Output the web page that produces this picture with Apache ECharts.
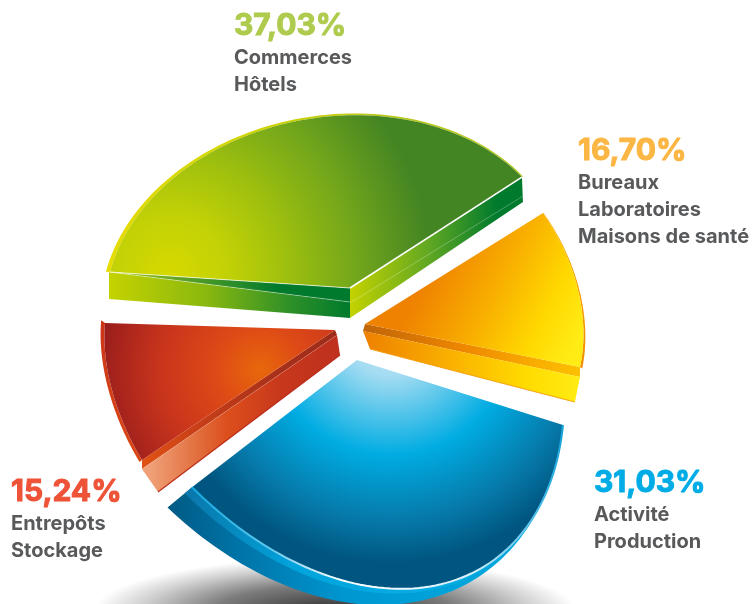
<!DOCTYPE html>
<html><head><meta charset="utf-8">
<style>html,body{margin:0;padding:0;background:#fff}#c{width:755px;height:604px}</style>
<script src="https://cdn.jsdelivr.net/npm/echarts@6/dist/echarts.min.js"></script>
</head><body><div id="c"></div>
<script>
// ---- data ----
var shareValues = [37.03, 16.70, 31.03, 15.24];
var nameLines = [["Commerces","Hôtels"],["Bureaux","Laboratoires","Maisons de santé"],["Activité","Production"],["Entrepôts","Stockage"]];
var labelColors = ["#aecb4e","#fcb643","#00ace6","#ee5237"];

// ---- look (per-wedge projection of the unit pie, label anchors, gradients) ----
var G = echarts.graphic;
function lin(x0,y0,x1,y1,st){return new G.LinearGradient(x0,y0,x1,y1,st.map(function(s){return {offset:s[0],color:s[1]};}),true);}
function rad(x,y,r,st){return new G.RadialGradient(x,y,r,st.map(function(s){return {offset:s[0],color:s[1]};}),true);}
var looks = [
 { // green
  c:[334.4,291.2], e:[-224.4,-19.2], f:[46.2,-174.9], apex:[350,288], label:[234,37],
  top: rad(170,272,262,[[0,'#d6d900'],[.22,'#c2d106'],[.45,'#9dbf0e'],[.7,'#74a71b'],[1,'#438423']]),
  rim:{from:1.018,to:1.006, fill:lin(110,272,400,114,[[0,'#e6dc00'],[.6,'#d0d400'],[1,'#b8c820']])},
  walls:[
   {edge:0,a1:[0,0],c1:[0,0],c2:[0,0],a2:[0,14],fill:lin(110,0,350,0,[[0,'#a8c810'],[.3,'#5ea225'],[.7,'#007a2d'],[1,'#007a2d']])},
   {edge:0,a1:[0,14],c1:[-1,0],c2:[-1,27],a2:[0,30],fill:lin(110,0,350,0,[[0,'#c4d200'],[.4,'#8ab80f'],[.75,'#2e9028'],[1,'#007a2d']])},
   {edge:1,a1:[0,0],c1:[0,0],c2:[1,25],a2:[0,30],fill:lin(350,0,523,0,[[0,'#c4d200'],[.45,'#62a822'],[.85,'#007a2d'],[1,'#007a2d']])}
  ],
  lines:[
   {edge:1,a:[0,0],c:[0,0],color:'#ffffff',w:1.6},
   {edge:0,a:[0,0],c:[0,0],color:'#ffffff',w:.7},
   {edge:1,a:[0,15],c:[1,19],color:'rgba(255,255,255,.45)',w:.6},
   {edge:0,a:[0,14],c:[-1,0],color:'rgba(255,255,255,.6)',w:.6}
  ]
 },
 { // orange
  c:[454.9,289.2], e:[88.1,-76.2], f:[93.6,133.6], apex:[365,324], label:[578,162],
  top: lin(430,270,575,345,[[0,'#ef8200'],[.4,'#f8ad00'],[.75,'#ffd800'],[1,'#ffec14']]),
  rim:{from:1.004,to:1.018, fill:lin(0,212,0,400,[[0,'#f9a800'],[1,'#f08c00']])},
  walls:[
   {edge:1,a1:[0,0],c1:[0,0],c2:[0,10],a2:[-2,7],fill:lin(365,0,580,0,[[0,'#c06508'],[.45,'#ee8600'],[.8,'#f9ae00'],[1,'#fcc000']])},
   {edge:1,a1:[-2,7],c1:[0,10],c2:[-5,35],a2:[5,25],fill:lin(365,0,580,0,[[0,'#ee8100'],[.45,'#fbb700'],[.75,'#ffdb00'],[1,'#ffec14']])}
  ],
  lines:[
   {edge:1,a:[5,25],c:[-5,35],color:'#f49a00',w:.9}
  ]
 },
 { // blue
  c:[310.3,289.3], e:[252.7,135.7], f:[-26.7,267], apex:[357,360], label:[594,494],
  top: rad(390,330,240,[[0,'#cdeefa'],[.19,'#a4dcf2'],[.52,'#00ace2'],[.8,'#0678a8'],[.97,'#005680'],[1,'#005680']]),
  band:{c:[295.2,294], e:[267.8,131], f:[-30.8,282],
        fill:lin(167,0,460,0,[[0,'#005a84'],[.25,'#0074a8'],[.6,'#0096d0'],[1,'#00a5dc']]),
        inner:.3, innerFill:lin(190,0,540,0,[[0,'#0a78ac'],[.3,'#00a4dc'],[.7,'#0aaee4'],[1,'#0aa8e0']])},
  arcLine:lin(192,0,563,0,[[0,'#12a8e0'],[.2,'#5cc6ee'],[.4,'#ffffff'],[.75,'#d8f0fa'],[.9,'#60c4ec'],[1,'#18a4dc']]),
  walls:[], lines:[]
 },
 { // red
  c:[214.4,403.1], e:[-72.4,56.9], f:[-82.8,-137.9], apex:[335,330], label:[11,503],
  top: rad(260,370,175,[[0,'#e8680c'],[.25,'#de4a16'],[.58,'#c8341c'],[.85,'#a3221c'],[1,'#8a181b']]),
  rim:{from:1.035,to:1.035, fill:lin(0,323,0,470,[[0,'#cc3518'],[1,'#dc4a14']])},
  walls:[
   {edge:0,a1:[0,0],c1:[0,0],c2:[0,9],a2:[2,5],fill:lin(142,0,335,0,[[0,'#e05214'],[.3,'#c73e18'],[.7,'#a8301a'],[1,'#9c2c1a']])},
   {edge:0,a1:[2,5],c1:[0,9],c2:[16,32],a2:[5,25],fill:lin(150,0,335,0,[[0,'#f0a078'],[.25,'#e2703f'],[.42,'#dc4e1c'],[.7,'#c8381c'],[1,'#bf301e']])}
  ],
  lines:[
   {edge:0,a:[5,25],c:[16,32],color:'#b92a18',w:1.1},
   {edge:0,a:[2,5],c:[0,9],color:'rgba(255,255,255,.25)',w:.5}
  ]
 }
];
var shadow = {x:335,y:612,rx:242,ry:54};
var percentFont = {size:30, family:'Inter, Roboto, sans-serif', heavy:1};
var nameFont = {size:20, family:'Inter, Roboto, sans-serif', color:'#58595b', leading:27};

function add(p,o){return [p[0]+o[0],p[1]+o[1]];}
function pt(g,t,k){k=k==null?1:k;return [g.c[0]+k*(g.e[0]*Math.cos(t)+g.f[0]*Math.sin(t)),g.c[1]+k*(g.e[1]*Math.cos(t)+g.f[1]*Math.sin(t))];}
function arc(g,span,from,to){var pts=[];for(var i=0;i<=80;i++){var m=i/80;pts.push(pt(g,span*m,from==null?1:from+(to-from)*m));}return pts;}
function mix(a,b,m){return a.map(function(p,i){return [p[0]+(b[i][0]-p[0])*m,p[1]+(b[i][1]-p[1])*m];});}

var total = shareValues.reduce(function(a,b){return a+b;},0);

function renderItem(params, api){
  var i = params.dataIndex, L = looks[i], v = api.value(0);
  var span = v/total*Math.PI*2, kids = [];
  function corner(edge){return edge===0?pt(L,0):pt(L,span);}
  var top = arc(L,span);
  L.walls.forEach(function(w){
    var cr = corner(w.edge);
    kids.push({type:'polygon',shape:{points:[add(L.apex,w.a1),add(cr,w.c1),add(cr,w.c2),add(L.apex,w.a2)]},style:{fill:w.fill}});
  });
  if(L.band){
    var outer = arc(L.band,span);
    kids.push({type:'polygon',shape:{points:outer.concat(top.slice().reverse())},style:{fill:L.band.fill}});
    var inner = mix(top,outer,L.band.inner);
    kids.push({type:'polygon',shape:{points:inner.concat(top.slice().reverse())},style:{fill:L.band.innerFill}});
  }
  if(L.rim){
    var r = arc(L,span,L.rim.from,L.rim.to);
    kids.push({type:'polygon',shape:{points:r.concat(top.slice().reverse())},style:{fill:L.rim.fill}});
  }
  kids.push({type:'polygon',shape:{points:[L.apex].concat(top)},style:{fill:L.top}});
  if(L.arcLine){kids.push({type:'polyline',shape:{points:top},style:{fill:null,stroke:L.arcLine,lineWidth:2}});}
  L.lines.forEach(function(l){
    var cr = corner(l.edge);
    kids.push({type:'line',shape:{x1:L.apex[0]+l.a[0],y1:L.apex[1]+l.a[1],x2:cr[0]+l.c[0],y2:cr[1]+l.c[1]},style:{stroke:l.color,lineWidth:l.w}});
  });
  // labels
  kids.push({type:'text',style:{x:L.label[0],y:L.label[1]-percentFont.size*.36,text:v.toFixed(2).replace('.',',')+'%',fill:labelColors[i],
    stroke:labelColors[i],lineWidth:percentFont.heavy,
    font:'bold '+percentFont.size+'px '+percentFont.family,align:'left',verticalAlign:'middle'}});
  nameLines[i].forEach(function(t,n){
    kids.push({type:'text',style:{x:L.label[0],y:L.label[1]+nameFont.leading*(n+1)+1-nameFont.size*.36,text:t,fill:nameFont.color,
      font:'bold '+nameFont.size+'px '+nameFont.family,align:'left',verticalAlign:'middle'}});
  });
  return {type:'group',children:kids};
}

var chart = echarts.init(document.getElementById('c'),null,{renderer:'canvas'});
chart.setOption({
  backgroundColor:'#ffffff',
  animation:false,
  graphic:[{type:'circle',silent:true,z:0,x:shadow.x,y:shadow.y,scaleX:1,scaleY:shadow.ry/shadow.rx,
    shape:{cx:0,cy:0,r:shadow.rx},
    style:{fill:new G.RadialGradient(.5,.5,.5,[{offset:0,color:'#2c2c2c'},{offset:.5,color:'#7c7c7c'},{offset:.8,color:'#cfcfcf'},{offset:1,color:'#ffffff'}])}}],
  series:[{type:'custom',coordinateSystem:'none',silent:true,z:5,clip:false,
    data:shareValues.map(function(v){return [v];}),
    dimensions:['share'],
    encode:{value:0},
    renderItem:renderItem}]
});
</script></body></html>
